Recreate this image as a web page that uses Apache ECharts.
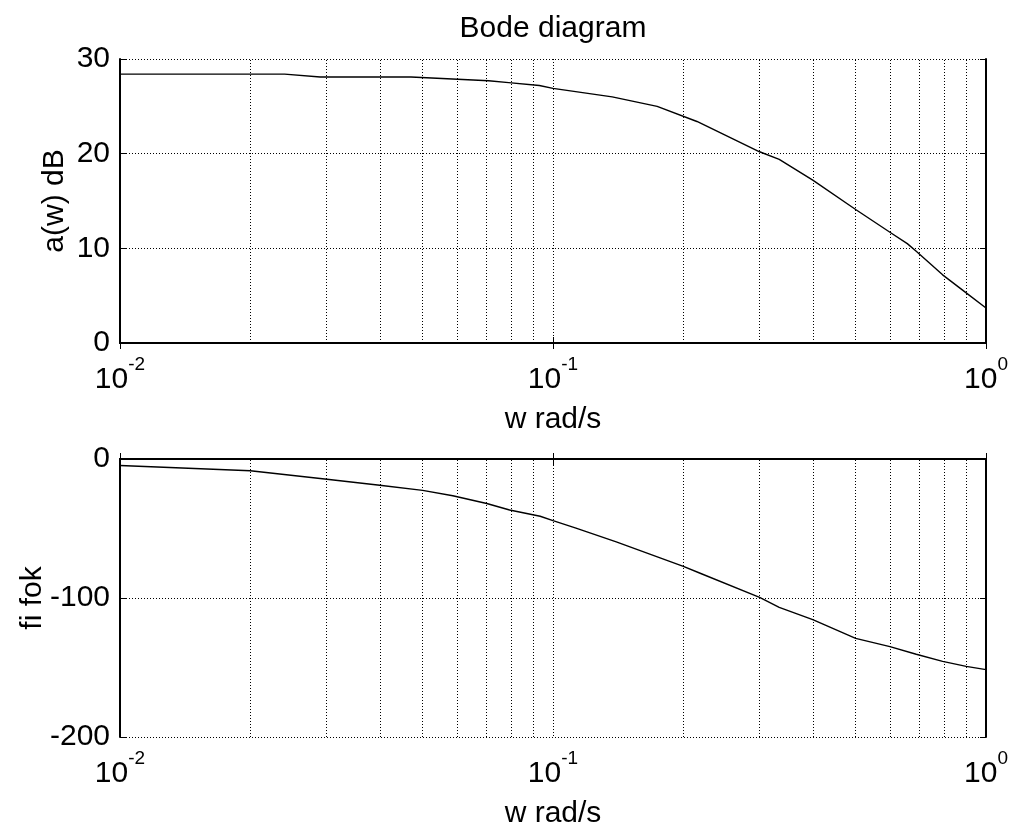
<!DOCTYPE html>
<html>
<head>
    <meta charset="utf-8">
    <title>Bode diagram</title>
    <style>
        * { margin: 0; padding: 0; }
        #main { width: 1013px; height: 830px; background: #fff; }
    </style>
    <script src="https://cdn.jsdelivr.net/npm/echarts@6/dist/echarts.min.js"></script>
</head>
<body>
    <div id="main"></div>
    <script type="text/javascript">
        // amplitude curve
        var ampFreq = [0.01, 0.024, 0.029, 0.047, 0.071, 0.079, 0.093, 0.1, 0.137, 0.174, 0.215,
                       0.3, 0.333, 0.398, 0.5, 0.6, 0.658, 0.69, 0.794, 0.9, 1.0];
        var ampDb = [28.4, 28.4, 28.1, 28.1, 27.7, 27.5, 27.2, 26.9, 26.0, 25.0, 23.4,
                     20.2, 19.4, 17.2, 14.1, 11.7, 10.5, 9.7, 7.2, 5.3, 3.7];

        // phase curve
        var phaseFreq = [0.01, 0.02, 0.0297, 0.0398, 0.05, 0.0587, 0.0703, 0.0794, 0.0934, 0.1, 0.113,
                         0.14, 0.2, 0.218, 0.3, 0.333, 0.398, 0.5, 0.6, 0.69, 0.794, 0.9, 1.0];
        var phaseDeg = [-4.7, -8.5, -14.4, -18.9, -22.6, -26.4, -32.0, -36.7, -41.2, -44.3, -49.7,
                        -59.6, -77.3, -82, -99.6, -106.7, -115.6, -129, -135, -140.5, -145.6, -149.2, -151.5];

        // minor log grid lines
        var minorTicks = [0.02, 0.03, 0.04, 0.05, 0.06, 0.07, 0.08, 0.09,
                          0.2, 0.3, 0.4, 0.5, 0.6, 0.7, 0.8, 0.9];

        var font = 'Liberation Sans, Arial, Helvetica, sans-serif';
        var fs = 30;
        var dotted = { color: '#000', width: 1, type: [1, 2] };

        function pairs(xs, ys) {
            return xs.map(function (x, i) { return [x, ys[i]]; });
        }

        function logLabel(v) {
            var e = Math.round(Math.log10(v));
            return '{b|10}{s|' + e + '}';
        }

        function bottomX(idx) {
            return {
                type: 'log', logBase: 10, min: 0.01, max: 1, gridIndex: idx,
                name: 'w rad/s', nameLocation: 'middle', nameGap: 62,
                nameTextStyle: { color: '#000', fontSize: fs, fontFamily: font },
                axisLine: { show: true, lineStyle: { color: '#000', width: 2 } },
                axisTick: { show: true, inside: true, length: 6, lineStyle: { color: '#000' } },
                axisLabel: {
                    show: true, margin: 12, color: '#000', formatter: logLabel,
                    rich: {
                        b: { fontSize: fs, fontFamily: font, color: '#000', lineHeight: 40, verticalAlign: 'bottom' },
                        s: { fontSize: 19, fontFamily: font, color: '#000', lineHeight: 40, verticalAlign: 'top' }
                    }
                },
                splitLine: { show: true, lineStyle: dotted },
                minorTick: { show: false },
                minorSplitLine: { show: false }
            };
        }

        function topX(idx, name) {
            return {
                type: 'log', logBase: 10, min: 0.01, max: 1, gridIndex: idx, position: 'top',
                name: name, nameLocation: 'middle', nameGap: 15,
                nameTextStyle: { color: '#000', fontSize: fs, fontFamily: font },
                axisLine: { show: true, lineStyle: { color: '#000', width: 2 } },
                axisTick: { show: true, inside: true, length: 6, lineStyle: { color: '#000' } },
                axisLabel: { show: false },
                splitLine: { show: false }
            };
        }

        function leftY(idx, name, min, max, step, gap) {
            return {
                type: 'value', gridIndex: idx, min: min, max: max, interval: step,
                name: name, nameLocation: 'middle', nameGap: gap, nameRotate: 90,
                nameMoveOverlap: false,
                nameTextStyle: { color: '#000', fontSize: fs, fontFamily: font },
                axisLine: { show: true, lineStyle: { color: '#000', width: 2 } },
                axisTick: { show: true, inside: true, length: 6, lineStyle: { color: '#000' } },
                axisLabel: { color: '#000', fontSize: fs, fontFamily: font, margin: 10 },
                splitLine: { show: true, lineStyle: dotted }
            };
        }

        function rightY(idx, min, max, step) {
            return {
                type: 'value', gridIndex: idx, min: min, max: max, interval: step, position: 'right',
                axisLine: { show: true, lineStyle: { color: '#000', width: 2 } },
                axisTick: { show: true, inside: true, length: 6, lineStyle: { color: '#000' } },
                axisLabel: { show: false },
                splitLine: { show: false }
            };
        }

        function minorLines() {
            return {
                silent: true, symbol: 'none', animation: false,
                label: { show: false },
                lineStyle: dotted,
                data: minorTicks.map(function (v) { return { xAxis: v }; })
            };
        }

        var chart = echarts.init(document.getElementById('main'));
        chart.setOption({
            backgroundColor: '#fff',
            animation: false,
            grid: [
                { left: 120, top: 59, width: 866, height: 284 },
                { left: 120, top: 459, width: 866, height: 283 }
            ],
            xAxis: [bottomX(0), bottomX(1), topX(0, 'Bode diagram'), topX(1, '')],
            yAxis: [leftY(0, 'a(w) dB', 0, 30, 10, 50), leftY(1, 'fi fok', -200, 0, 100, 72),
                    rightY(0, 0, 30, 10), rightY(1, -200, 0, 100)],
            series: [
                {
                    name: 'amplitude', type: 'line', xAxisIndex: 0, yAxisIndex: 0,
                    data: pairs(ampFreq, ampDb), showSymbol: false, smooth: false,
                    lineStyle: { color: '#000', width: 1.4 }, itemStyle: { color: '#000' },
                    markLine: minorLines()
                },
                {
                    name: 'phase', type: 'line', xAxisIndex: 1, yAxisIndex: 1,
                    data: pairs(phaseFreq, phaseDeg), showSymbol: false, smooth: false,
                    lineStyle: { color: '#000', width: 1.4 }, itemStyle: { color: '#000' },
                    markLine: minorLines()
                }
            ]
        });
    </script>
</body>
</html>
